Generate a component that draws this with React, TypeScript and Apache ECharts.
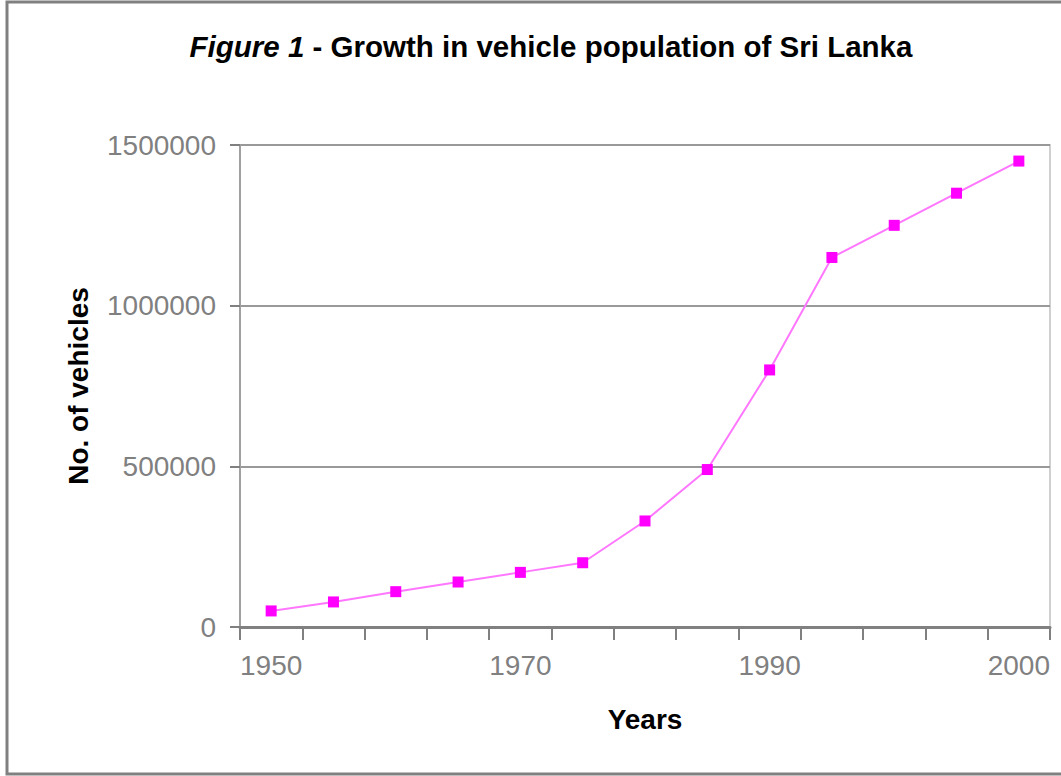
import React, { useEffect, useRef } from 'react';
import * as echarts from 'echarts';

const years = ['1950', '1955', '1960', '1965', '1970', '1975', '1980', '1985', '1990', '1993', '1995', '1998', '2000'];
const vehicles = [50000, 78000, 110000, 140000, 170000, 200000, 330000, 490000, 800000, 1150000, 1250000, 1350000, 1450000];
const yMin = 0;
const yMax = 1500000;
const yStep = 500000;

const FONT = 'Arial, "Liberation Sans", sans-serif';

export default function App() {
  const ref = useRef<HTMLDivElement>(null);
  useEffect(() => {
    const chart = echarts.init(ref.current!, null, { renderer: 'svg' });
    chart.setOption({
      animation: false,
      backgroundColor: '#ffffff',
      textStyle: { fontFamily: FONT },
      graphic: [
        {
          type: 'rect',
          shape: { x: 7, y: 2, width: 1070, height: 772 },
          style: { fill: 'none', stroke: '#808080', lineWidth: 3 },
          silent: true,
        },
        {
          type: 'text',
          x: 551,
          y: 46,
          style: {
            text: '{i|Figure 1} - Growth in vehicle population of Sri Lanka',
            fontFamily: FONT,
            fontSize: 29.5,
            fontWeight: 'bold',
            fill: '#000',
            align: 'center',
            verticalAlign: 'middle',
            rich: {
              i: { fontStyle: 'italic', fontFamily: FONT, fontSize: 29.5, fontWeight: 'bold', fill: '#000' },
            },
          },
        },
      ],
      grid: {
        left: 240,
        right: 11,
        top: 145,
        bottom: 149,
        show: true,
        borderColor: '#d0d0d0',
        borderWidth: 2,
      },
      xAxis: {
        type: 'category',
        data: years,
        boundaryGap: true,
        name: 'Years',
        nameLocation: 'middle',
        nameGap: 78,
        nameTextStyle: { fontSize: 28, fontWeight: 'bold', color: '#000', fontFamily: FONT },
        axisLine: { lineStyle: { color: '#808080', width: 3 } },
        axisTick: { show: true, interval: 0, length: 13, lineStyle: { color: '#808080', width: 2 } },
        axisLabel: { interval: 3, fontSize: 28, color: '#808080', margin: 24, fontFamily: FONT },
      },
      yAxis: {
        type: 'value',
        min: yMin,
        max: yMax,
        interval: yStep,
        name: 'No. of vehicles',
        nameLocation: 'middle',
        nameGap: 148,
        nameTextStyle: { fontSize: 28, fontWeight: 'bold', color: '#000', fontFamily: FONT },
        axisLine: { show: true, lineStyle: { color: '#a0a0a0', width: 2 } },
        axisTick: { show: true, length: 10, lineStyle: { color: '#808080', width: 2 } },
        axisLabel: {
          fontSize: 28,
          color: '#808080',
          margin: 24,
          fontFamily: FONT,
          formatter: (v: number) => String(v),
        },
        splitLine: { show: true, lineStyle: { color: '#999999', width: 2 } },
      },
      series: [
        {
          type: 'line',
          data: vehicles,
          symbol: 'rect',
          symbolSize: 11,
          itemStyle: { color: '#ff00ff' },
          lineStyle: { color: '#ff77ff', width: 2 },
        },
      ],
    });
    return () => chart.dispose();
  }, []);
  return (
    <div
      ref={ref}
      style={{ position: 'fixed', left: 0, top: 0, width: 1061, height: 776, background: '#fff' }}
    />
  );
}
